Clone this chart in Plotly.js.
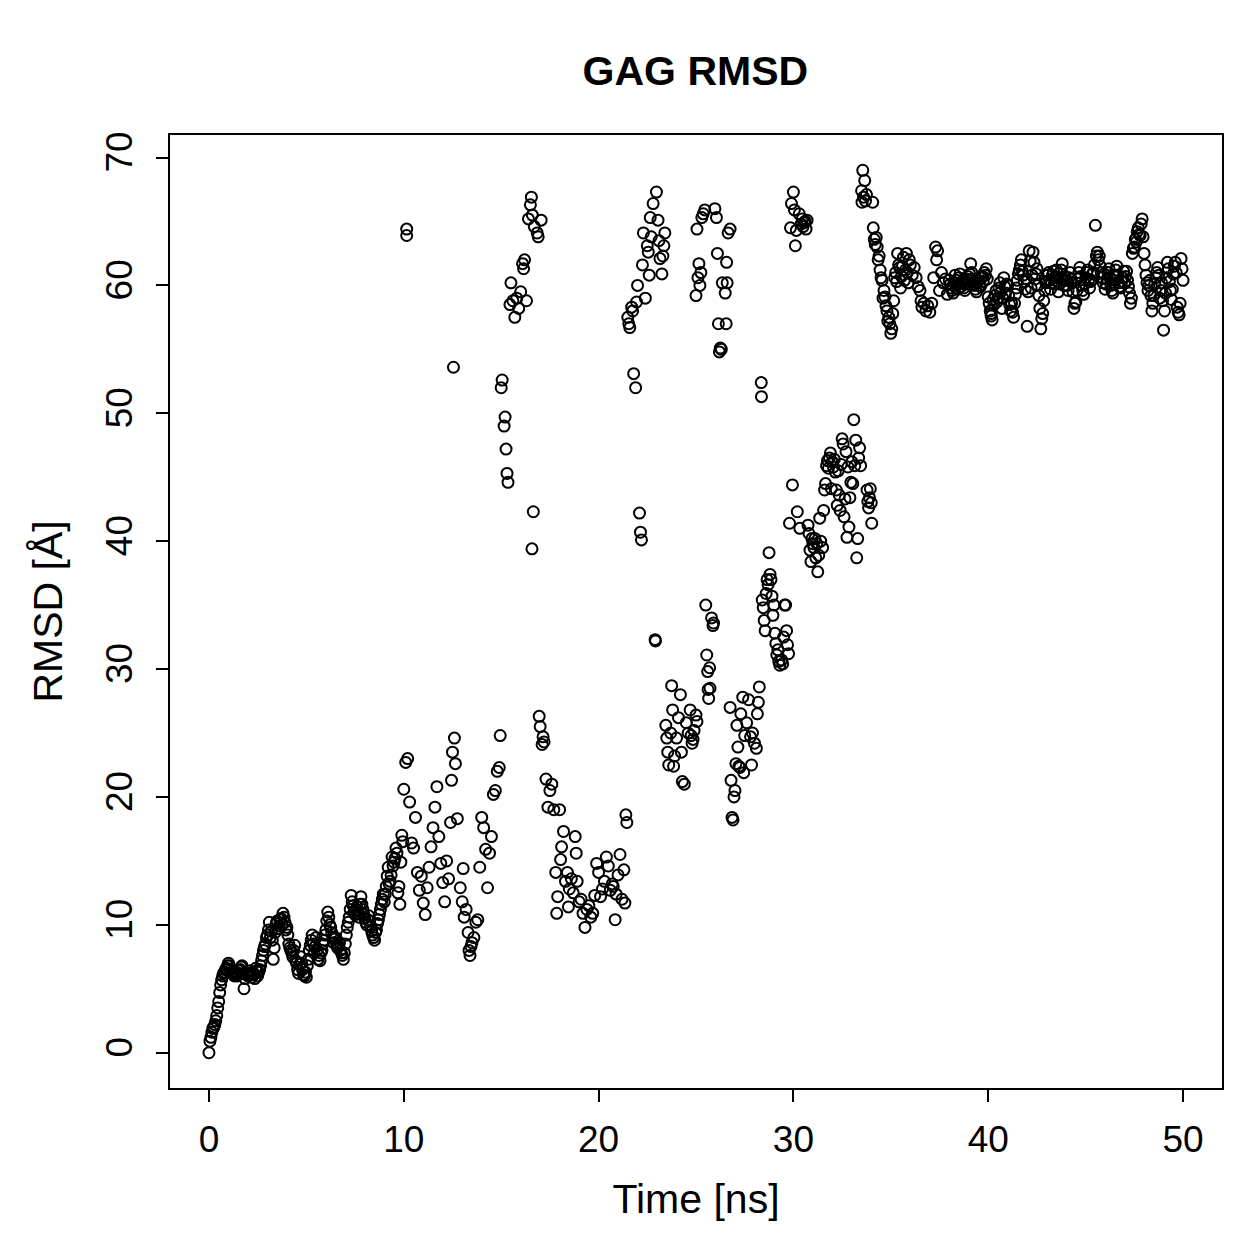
<!DOCTYPE html>
<html>
<head>
<meta charset="utf-8">
<script src="https://cdn.plot.ly/plotly-3.0.1.min.js"></script>
<style>html,body{margin:0;padding:0;background:#fff;}#chart{width:1259px;height:1259px;}</style>
</head>
<body>
<div id="chart"></div>
<script>
// Time [ns]
const timeNs = [
0.0,0.1,0.2,0.3,0.4,0.5,0.6,0.7,0.8,0.9,
1.0,1.1,1.2,1.3,1.4,1.5,1.6,1.7,1.8,1.9,
2.0,2.1,2.2,2.3,2.4,2.5,2.6,2.7,2.8,2.9,
3.0,3.1,3.2,3.3,3.4,3.5,3.6,3.7,3.8,3.9,
4.0,4.1,4.2,4.3,4.4,4.5,4.6,4.7,4.8,4.9,
5.0,5.1,5.2,5.3,5.4,5.5,5.6,5.7,5.8,5.9,
6.0,6.1,6.2,6.3,6.4,6.5,6.6,6.7,6.8,6.9,
7.0,7.1,7.2,7.3,7.4,7.5,7.6,7.7,7.8,7.9,
8.0,8.1,8.2,8.3,8.4,8.5,8.6,8.7,8.8,8.9,
9.0,9.1,9.2,9.3,9.4,9.5,9.6,9.7,9.8,9.9,
10.0,10.1,10.15,10.15,10.2,10.3,10.4,10.5,10.6,10.7,10.8,10.9,
11.0,11.1,11.2,11.3,11.4,11.5,11.6,11.7,11.8,11.9,
12.0,12.1,12.2,12.3,12.4,12.45,12.5,12.55,12.6,12.65,12.75,12.9,
13.0,13.05,13.1,13.2,13.3,13.35,13.4,13.45,13.5,13.6,13.7,13.8,13.9,
14.0,14.1,14.2,14.3,14.4,14.5,14.6,14.7,14.8,14.9,14.95,
15.0,15.05,15.15,15.2,15.25,15.3,15.35,15.45,15.5,15.6,15.7,15.8,15.9,
16.0,16.1,16.15,16.2,16.3,16.4,16.5,16.55,16.58,16.6,16.65,16.7,16.85,16.9,
16.95,17.0,17.05,17.1,17.15,17.2,17.3,17.4,17.5,17.6,17.7,17.8,17.85,17.9,
18.0,18.05,18.1,18.2,18.3,18.4,18.45,18.5,18.6,18.7,18.8,18.85,18.9,
19.0,19.1,19.2,19.3,19.4,19.5,19.6,19.7,19.8,19.9,
20.0,20.1,20.2,20.3,20.4,20.5,20.6,20.7,20.75,20.85,20.9,
21.0,21.1,21.2,21.3,21.35,21.4,21.45,
21.5,21.55,21.6,21.7,21.75,21.8,21.9,21.95,22.0,22.1,22.15,22.2,22.25,22.3,22.4,22.5,22.55,22.6,22.65,22.7,22.8,22.9,22.92,
22.97,23.05,23.1,23.15,23.25,23.3,23.35,23.4,
23.45,23.5,23.55,23.6,23.7,23.75,23.8,23.85,23.9,24.0,24.1,24.2,24.25,24.3,24.4,24.5,24.6,24.7,24.75,24.8,24.85,24.9,25.0,25.05,
25.0,25.05,25.1,25.15,25.2,25.25,25.3,25.37,25.45,
25.5,25.55,25.6,25.62,25.65,25.7,25.72,25.8,25.87,25.9,
25.97,26.05,26.1,26.15,26.2,26.25,26.3,26.35,26.5,26.55,26.57,26.6,26.65,26.75,
26.75,26.8,26.85,26.9,26.95,27.0,27.05,27.1,27.15,27.2,27.25,27.3,27.4,27.45,27.5,27.6,27.7,27.8,27.85,27.9,28.0,28.1,28.15,28.2,28.25,28.35,28.36,28.4,
28.45,28.5,28.55,28.6,28.65,28.7,28.75,28.8,28.85,28.9,28.95,29.0,29.05,29.1,29.15,29.2,29.25,29.3,29.4,29.45,29.5,29.55,29.6,29.65,29.7,29.75,
29.8,29.85,29.9,29.95,30.0,30.05,30.1,30.15,
30.2,30.3,30.33,30.4,30.45,30.5,30.55,30.6,30.65,30.7,30.75,30.8,
30.85,30.9,30.95,31.0,31.05,31.1,31.15,31.2,31.25,31.3,31.35,31.4,31.5,31.55,31.6,31.65,31.7,31.75,31.8,31.85,31.9,31.95,
32.0,32.05,32.1,32.15,32.2,32.25,32.3,32.35,32.4,32.45,32.5,32.55,32.6,32.65,32.7,32.75,32.8,32.85,32.9,32.95,
33.0,33.05,33.1,33.15,33.2,33.25,33.3,33.35,33.4,33.45,
33.5,33.52,33.56,33.6,33.66,33.7,33.75,
33.78,33.82,33.86,33.9,33.95,34.0,34.02,
34.07,34.1,34.15,34.2,34.25,34.3,34.35,34.4,34.45,34.5,34.55,34.6,34.65,34.7,34.75,34.8,34.85,34.9,34.95,
35.0,35.05,35.1,35.15,35.2,35.25,35.3,35.35,35.4,35.45,35.5,35.55,35.6,35.65,35.7,35.75,35.8,35.85,35.9,35.95,
36.0,36.1,36.2,36.3,36.4,36.5,36.55,36.6,36.7,36.8,36.9,37.0,37.1,37.2,37.3,37.35,37.4,37.5,37.6,37.7,37.8,37.9,
38.0,38.1,38.2,38.3,38.4,38.5,38.6,38.7,38.8,38.9,39.0,39.1,39.2,39.3,39.4,39.5,39.6,39.7,39.8,39.9,
40.0,40.1,40.15,40.2,40.3,40.4,40.5,40.6,40.7,40.8,40.9,
41.0,41.1,41.2,41.3,41.4,41.5,41.6,41.7,41.8,41.9,
42.0,42.1,42.2,42.3,42.4,42.5,42.6,42.7,42.8,42.9,
43.0,43.1,43.2,43.3,43.4,43.5,43.6,43.7,43.8,43.9,
44.0,44.1,44.2,44.3,44.4,44.5,44.6,44.7,44.8,44.9,
45.0,45.1,45.2,45.3,45.4,45.5,45.6,45.7,45.8,45.9,
46.0,46.1,46.2,46.3,46.4,46.5,46.6,46.7,46.8,46.9,
47.0,47.1,47.2,47.3,47.4,47.5,47.6,47.7,47.8,47.9,
48.0,48.1,48.2,48.3,48.4,48.5,48.6,48.7,48.8,48.9,
49.0,49.1,49.2,49.3,49.4,49.5,49.6,49.7,49.8,49.9,
50.0,
0.05,0.15,0.25,0.35,0.45,0.55,0.65,0.75,0.85,0.95,
1.05,1.15,1.25,1.35,1.45,1.55,1.65,1.75,1.85,1.95,
2.05,2.15,2.25,2.35,2.45,2.55,2.65,2.75,2.85,2.95,
3.05,3.15,3.25,3.35,3.45,3.55,3.65,3.75,3.85,3.95,
4.05,4.15,4.25,4.35,4.45,4.55,4.65,4.75,4.85,4.95,
5.05,5.15,5.25,5.35,5.45,5.55,5.65,5.75,5.85,5.95,
6.05,6.15,6.25,6.35,6.45,6.55,6.65,6.75,6.85,6.95,
7.05,7.15,7.25,7.35,7.45,7.55,7.65,7.75,7.85,7.95,
8.05,8.15,8.25,8.35,8.45,8.55,8.65,8.75,8.85,8.95,
9.05,9.15,9.25,9.35,9.45,9.55,9.65,9.75,9.85,9.95,
38.05,38.15,38.25,38.35,38.45,38.55,38.65,38.75,38.85,38.95,
39.05,39.15,39.25,39.35,39.45,39.55,39.65,39.75,39.85,39.95,
40.05,40.15,40.25,40.35,40.45,40.55,40.65,40.75,40.85,40.95,
41.05,41.15,41.25,41.35,41.45,41.55,41.65,41.75,41.85,41.95,
42.05,42.15,42.25,42.35,42.45,42.55,42.65,42.75,42.85,42.95,
43.05,43.15,43.25,43.35,43.45,43.55,43.65,43.75,43.85,43.95,
44.05,44.15,44.25,44.35,44.45,44.55,44.65,44.75,44.85,44.95,
45.05,45.15,45.25,45.35,45.45,45.55,45.65,45.75,45.85,45.95,
46.05,46.15,46.25,46.35,46.45,46.55,46.65,46.75,46.85,46.95,
47.05,47.15,47.25,47.35,47.45,47.55,47.65,47.75,47.85,47.95,
48.05,48.15,48.25,48.35,48.45,48.55,48.65,48.75,48.85,48.95,
49.05,49.15,49.25,49.35,49.45,49.55,49.65,49.75,49.85,49.95
];
// RMSD [Å]
const rmsdA = [
0.0,1.2,1.9,2.2,2.9,4.0,5.3,6.0,6.3,6.6,
7.0,6.5,6.2,6.0,6.3,6.1,6.5,6.8,5.0,6.2,
6.0,6.4,5.9,6.1,6.6,6.0,6.5,7.2,8.0,8.5,
9.2,10.2,9.5,7.3,9.4,10.3,9.9,10.5,10.9,10.2,
9.8,8.5,8.0,7.5,8.4,7.0,6.2,7.5,6.5,6.0,
5.9,7.3,8.4,9.2,7.8,9.0,7.3,7.2,8.0,8.8,
9.6,11.0,10.0,9.4,8.6,9.0,8.2,8.6,7.8,7.3,
8.5,9.8,10.6,12.3,11.5,10.8,11.4,10.6,12.2,11.2,
10.5,10.0,10.7,9.9,9.2,8.8,9.6,10.4,11.2,12.0,
11.8,13.0,14.5,13.4,15.3,14.9,16.0,12.5,11.6,17.0,
20.6,22.7,64.4,63.9,23.0,19.6,16.4,16.0,18.4,14.1,12.7,13.8,
11.7,10.8,12.9,14.5,16.1,17.6,19.2,20.8,16.9,14.8,
13.3,11.8,15.0,13.6,18.0,21.3,23.5,53.6,24.6,22.6,18.3,12.9,
11.8,14.4,10.6,11.2,9.4,8.0,7.6,8.3,8.6,9.0,10.2,10.4,14.5,
18.4,17.6,15.9,12.9,15.6,16.9,20.2,20.5,22.0,22.3,24.8,
52.0,52.6,49.0,49.7,47.2,45.3,44.6,58.5,60.2,58.8,57.5,59.0,58.2,
59.5,61.7,61.3,62.0,58.8,65.2,66.3,66.9,39.4,65.5,42.3,64.6,64.1,63.8,
26.3,25.5,65.1,24.1,24.7,24.3,21.4,19.2,20.5,21.0,19.0,14.1,10.9,12.2,
19.0,15.1,16.1,17.3,13.4,14.1,11.4,12.8,13.6,12.5,16.9,15.6,13.4,
11.8,12.0,10.9,9.8,11.2,11.5,10.6,10.9,12.3,14.8,
14.1,12.2,12.8,13.4,15.3,14.6,12.7,13.2,13.0,10.4,12.4,
13.9,15.5,12.0,14.3,11.7,18.6,18.0,
57.5,57.0,56.7,58.3,58.0,53.1,52.0,58.7,60.0,42.2,40.7,40.1,61.6,64.1,59.0,63.1,62.6,60.8,65.3,63.8,66.4,32.3,32.2,
67.3,65.1,63.5,62.1,60.9,62.3,63.1,64.1,
25.6,24.6,23.5,22.5,25.0,28.7,26.8,22.4,23.2,24.6,26.2,28.0,23.5,21.2,21.0,25.8,25.0,26.8,24.8,24.2,24.5,25.2,26.4,25.9,
59.2,64.4,60.6,61.7,60.0,61.0,65.3,65.6,65.9,
35.0,31.1,29.8,28.4,27.7,30.1,28.5,34.0,33.4,33.6,
66.0,65.3,62.5,57.0,54.8,55.1,55.0,60.2,59.4,57.0,61.8,60.2,64.1,64.4,
27.0,21.3,18.4,18.2,20.0,20.5,22.6,25.6,23.9,22.4,22.3,26.5,27.8,21.9,24.8,25.8,27.6,24.7,22.5,25.0,24.2,23.8,26.5,27.4,28.6,52.4,51.3,35.4,
34.8,33.8,33.0,35.9,37.0,36.6,39.1,37.4,37.0,35.7,34.2,35.0,32.8,32.0,31.1,31.5,30.6,30.3,30.7,30.4,32.5,35.0,35.0,33.0,31.9,31.2,
41.4,64.5,66.4,44.4,67.3,65.9,63.1,64.3,
42.3,65.6,41.0,64.8,65.2,64.6,64.9,65.0,64.4,65.1,41.25,40.6,
39.3,38.4,40.2,39.8,39.5,40.2,38.7,39.8,37.6,38.9,41.8,40.0,39.5,42.4,44.0,44.5,45.9,46.3,45.7,46.5,46.9,44.1,
46.2,45.8,46.4,45.4,44.0,42.8,45.5,43.6,42.4,46.0,48.0,47.6,41.9,43.3,47.0,40.3,45.8,41.1,43.4,44.6,
46.2,44.5,49.5,45.9,47.9,38.7,40.2,46.5,47.3,45.9,
67.4,66.5,69.0,66.9,68.2,66.6,67.1,
44.0,43.1,42.6,43.4,44.1,43.0,41.4,
66.5,64.5,63.6,63.2,63.75,63.0,62.0,62.3,61.2,60.6,60.4,59.0,59.6,59.1,58.4,58.0,57.2,57.5,57.0,
56.25,56.6,57.8,58.8,60.6,61.0,60.3,62.5,61.6,61.4,59.8,60.7,61.5,62.2,60.4,61.2,62.5,61.0,60.2,62.0,
61.6,60.8,61.4,60.6,59.9,59.6,58.8,58.3,58.6,58.0,58.4,57.9,58.6,60.6,63.0,62.0,62.7,59.6,61.0,60.2,60.5,59.3,
60.4,59.8,59.4,60.8,60.0,60.6,59.9,60.4,59.6,60.5,60.2,61.7,60.5,60.0,59.5,60.4,59.9,60.7,61.0,61.3,
59.1,58.0,57.6,57.3,58.5,59.6,59.0,60.2,58.2,60.6,59.4,
60.0,58.5,58.6,57.5,59.3,60.4,61.2,62.0,60.8,59.7,
56.8,62.7,59.8,62.6,60.5,61.3,59.2,56.6,57.8,59.6,
60.3,61.0,59.7,60.8,60.1,61.2,59.5,60.6,61.7,60.0,
60.4,59.6,61.0,60.2,58.2,58.7,60.5,61.4,60.0,59.3,
60.6,61.2,59.8,60.4,61.0,64.7,62.6,62.3,61.0,60.2,
59.7,60.5,61.3,60.0,59.4,60.8,61.5,60.2,59.8,60.6,
60.2,61.1,59.9,58.6,62.5,63.0,63.4,64.5,63.9,65.2,
62.5,60.8,59.6,60.4,58.0,59.2,60.6,61.4,59.0,60.2,
56.5,59.4,61.8,60.3,58.9,60.9,61.8,58.3,57.7,62.1,
60.4,
0.9,1.6,2.0,2.5,3.5,4.7,5.7,6.2,6.5,6.8,
6.8,6.3,6.1,6.2,6.0,6.4,6.7,6.2,5.8,6.1,
6.2,6.1,6.3,5.8,6.4,6.3,6.8,7.6,8.3,9.0,
9.6,9.0,8.8,8.2,10.1,9.7,10.4,10.0,10.6,9.6,
9.2,8.2,7.8,8.0,7.2,6.5,6.9,7.0,6.1,6.3,
6.8,8.0,8.8,8.5,8.3,8.0,7.6,7.8,8.5,9.2,
10.3,10.6,9.8,9.0,8.9,8.5,8.4,8.0,7.6,7.8,
9.2,10.2,11.2,11.8,11.0,11.2,10.9,11.6,11.6,10.8,
10.2,10.4,10.3,9.5,9.0,9.4,10.1,10.8,11.6,12.4,
12.4,13.8,13.2,13.9,14.6,15.2,15.6,13.0,14.9,16.5,
60.1,59.6,60.2,60.4,59.7,60.9,60.2,59.8,60.1,60.7,
60.9,61.0,60.1,59.7,60.2,60.0,60.6,60.3,60.8,60.5,
58.6,57.8,58.9,59.2,58.7,59.8,59.5,59.0,59.9,60.1,
59.2,58.0,57.9,58.6,59.8,60.9,61.6,61.1,60.3,60.5,
59.5,61.9,60.8,61.8,60.9,60.0,58.2,57.4,58.8,60.2,
60.8,60.4,60.2,61.1,60.7,60.6,60.1,61.2,60.5,60.7,
60.0,60.6,60.5,59.5,58.6,59.6,61.0,60.7,59.6,60.1,
61.0,60.4,60.3,60.9,61.6,62.3,62.0,61.5,60.6,60.9,
60.1,61.0,60.6,59.6,60.1,61.2,60.8,59.9,60.3,61.1,
60.7,60.4,59.4,59.0,62.9,63.6,64.2,64.0,64.8,63.8,
61.6,60.2,60.0,59.2,58.6,60.1,61.0,60.8,59.6,58.8,
58.0,60.6,61.3,59.6,59.7,61.5,61.0,57.9,58.6,61.3
];
const xTicks = [0, 10, 20, 30, 40, 50];
const yTicks = [0, 10, 20, 30, 40, 50, 60, 70];

const FONT = 'Liberation Sans, Arial, Helvetica, sans-serif';

const trace = {
  x: timeNs, y: rmsdA, type: 'scatter', mode: 'markers',
  marker: {symbol: 'circle-open', size: 11, color: '#000', line: {color: '#000', width: 2}},
  hoverinfo: 'skip'
};

const layout = {
  width: 1259, height: 1259,
  margin: {l: 170, r: 37, t: 135, b: 171},
  paper_bgcolor: '#fff', plot_bgcolor: '#fff',
  showlegend: false,
  font: {family: FONT, color: '#000'},
  title: {text: '<b>GAG RMSD</b>', font: {family: FONT, size: 41, color: '#000'},
          x: 0.5523, xref: 'container', xanchor: 'center', y: 0.944, yref: 'container', yanchor: 'middle'},
  xaxis: {
    range: [-2, 52], tickmode: 'array', tickvals: xTicks, ticktext: xTicks.map(String),
    ticks: 'outside', ticklen: 12, tickwidth: 2, tickcolor: '#000',
    showline: true, mirror: true, linewidth: 2, linecolor: '#000',
    showgrid: false, zeroline: false,
    tickfont: {family: FONT, size: 37, color: '#000'}, ticklabelstandoff: 6,
    title: {text: 'Time [ns]', font: {family: FONT, size: 41, color: '#000'}, standoff: 25}
  },
  yaxis: {
    range: [-2.76, 71.76], tickmode: 'array', tickvals: yTicks, ticktext: yTicks.map(String),
    ticks: 'outside', ticklen: 12, tickwidth: 2, tickcolor: '#000', tickangle: -90,
    showline: true, mirror: true, linewidth: 2, linecolor: '#000',
    showgrid: false, zeroline: false,
    tickfont: {family: FONT, size: 37, color: '#000'}, ticklabelstandoff: 9,
    title: {text: 'RMSD [Å]', font: {family: FONT, size: 41, color: '#000'}, standoff: 24}
  }
};

Plotly.newPlot('chart', [trace], layout, {displayModeBar: false, staticPlot: true});
</script>
</body>
</html>
